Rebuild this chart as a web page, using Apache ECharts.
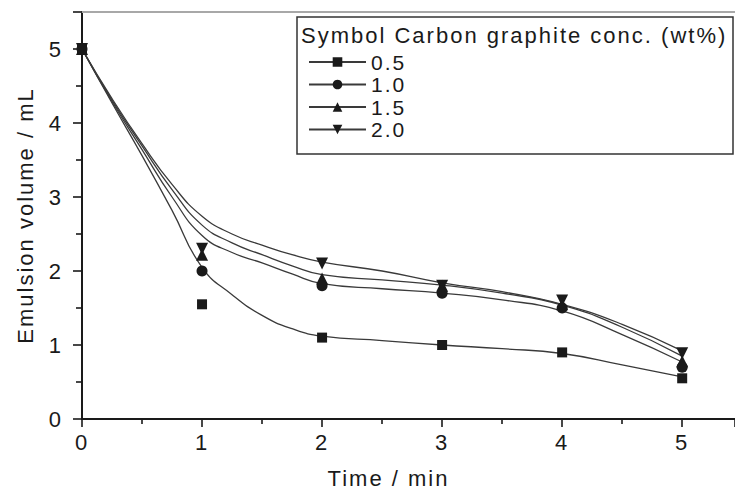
<!DOCTYPE html>
<html lang="en">
<head>
  <meta charset="UTF-8">
  <title>Emulsion volume</title>
  <script src="https://cdn.jsdelivr.net/npm/echarts@6/dist/echarts.min.js"></script>
  <style>
    body { margin: 0; background: #fff; }
    #main text { letter-spacing: 2px; }
  </style>
</head>
<body>
<div id="main" style="width: 735px; height: 492px"></div>
<script>

  // measured points (time in min, emulsion volume in mL)
  var timeMin = [0, 1, 2, 3, 4, 5];
  var vol05 = [5, 1.55, 1.1, 1.0, 0.9, 0.55];
  var vol10 = [5, 2.0, 1.8, 1.7, 1.5, 0.7];
  var vol15 = [5, 2.22, 1.9, 1.8, 1.55, 0.78];
  var vol20 = [5, 2.3, 2.1, 1.8, 1.6, 0.89];

  // fitted curves
  var fitTime = [0, 0.25, 0.5, 0.75, 1, 1.25, 1.5, 1.75, 2, 2.5, 3, 3.5, 4, 4.5, 5];
  var fit05 = [5, 4.27, 3.56, 2.82, 2.05, 1.68, 1.40, 1.22, 1.12, 1.06, 1.0, 0.95, 0.885, 0.73, 0.57];
  var fit10 = [5, 4.29, 3.64, 3.0, 2.48, 2.25, 2.11, 1.96, 1.83, 1.76, 1.70, 1.61, 1.46, 1.14, 0.77];
  var fit15 = [5, 4.31, 3.69, 3.1, 2.62, 2.38, 2.22, 2.07, 1.95, 1.88, 1.81, 1.70, 1.54, 1.24, 0.85];
  var fit20 = [5, 4.33, 3.72, 3.17, 2.74, 2.5, 2.35, 2.22, 2.12, 2.0, 1.84, 1.72, 1.55, 1.28, 0.92];

  var concNames = ['0.5', '1.0', '1.5', '2.0'];

  var points = [vol05, vol10, vol15, vol20];
  var fits = [fit05, fit10, fit15, fit20];
  var symbols = ['rect', 'circle', 'triangle', 'triangle'];
  var rotates = [0, 0, 0, 180];
  var sizes = [10, 11, 12, 12];

  var font = 'Arial, "Liberation Sans", sans-serif';
  var ink = '#1a1a1a';

  function pairs(xs, ys) {
    return xs.map(function (x, i) { return [x, ys[i]]; });
  }

  function intLabel(v) {
    return Math.abs(v - Math.round(v)) < 1e-6 ? String(Math.round(v)) : '';
  }

  var series = [];
  // curves first so they sit under the symbols
  for (var i = 0; i < 4; i++) {
    series.push({
      name: concNames[i],
      type: 'line',
      data: pairs(fitTime, fits[i]),
      smooth: 0.5,
      showSymbol: false,
      symbol: symbols[i],
      symbolRotate: rotates[i],
      lineStyle: { color: '#3a3a3a', width: 1.3 },
      itemStyle: { color: ink },
      silent: true,
      z: 2
    });
  }
  // square series last, it is the one on top at t = 0
  for (var j = 3; j >= 0; j--) {
    series.push({
      name: concNames[j],
      type: 'scatter',
      data: pairs(timeMin, points[j]),
      symbol: symbols[j],
      symbolRotate: rotates[j],
      symbolSize: sizes[j],
      itemStyle: { color: ink, opacity: 1 },
      z: 3
    });
  }

  var chartDom = document.getElementById('main');
  var myChart = echarts.init(chartDom, null, { renderer: 'svg' });
  var option;

  option = {
    animation: false,
    backgroundColor: '#fff',
    grid: { left: 82, right: 0, top: 12, bottom: 73, containLabel: false, outerBoundsMode: 'none' },
    legend: {
      data: concNames,
      orient: 'vertical',
      left: 308,
      top: 51,
      padding: 0,
      itemWidth: 57,
      itemHeight: 12,
      itemGap: 0.5,
      selectedMode: false,
      textStyle: { fontFamily: font, fontSize: 21, lineHeight: 22, color: ink }
    },
    graphic: [
      {
        type: 'rect',
        shape: { x: 297, y: 17, width: 436, height: 137 },
        style: { fill: 'none', stroke: '#333', lineWidth: 1.5 },
        z: 10
      },
      {
        type: 'text',
        x: 301,
        y: 35,
        style: {
          text: 'Symbol Carbon graphite conc. (wt%)',
          font: '22px ' + font,
          fill: ink,
          verticalAlign: 'middle'
        },
        z: 10
      }
    ],
    xAxis: [
      {
        type: 'value',
        min: 0,
        max: 5.44,
        interval: 1,
        position: 'bottom',
        name: 'Time / min',
        nameLocation: 'middle',
        nameGap: 48,
        nameTextStyle: { fontFamily: font, fontSize: 22, color: ink, padding: [0, 40, 0, 0] },
        axisLine: { lineStyle: { color: ink, width: 2 } },
        axisTick: { length: 8, lineStyle: { color: ink, width: 1.6 } },
        minorTick: { show: true, splitNumber: 2, length: 5, lineStyle: { color: ink, width: 1.6 } },
        splitLine: { show: false },
        axisLabel: { fontFamily: font, fontSize: 22, color: ink, margin: 12, showMaxLabel: false, formatter: intLabel }
      },
      {
        type: 'value',
        min: 0,
        max: 5.44,
        position: 'top',
        axisLine: { show: true, lineStyle: { color: '#a8a8a8', width: 2 } },
        axisTick: { show: false },
        axisLabel: { show: false },
        splitLine: { show: false }
      }
    ],
    yAxis: {
      type: 'value',
      min: 0,
      max: 5.5,
      interval: 1,
      name: 'Emulsion volume / mL',
      nameLocation: 'middle',
      nameGap: 46,
      nameTextStyle: { fontFamily: font, fontSize: 22, color: ink },
      axisLine: { show: true, lineStyle: { color: ink, width: 2 } },
      axisTick: { length: 9, lineStyle: { color: ink, width: 1.6 } },
      minorTick: { show: true, splitNumber: 2, length: 6, lineStyle: { color: ink, width: 1.6 } },
      splitLine: { show: false },
      axisLabel: { fontFamily: font, fontSize: 22, color: ink, margin: 19, showMaxLabel: false, formatter: intLabel }
    },
    series: series
  };

  option && myChart.setOption(option);

</script>
</body>
</html>
